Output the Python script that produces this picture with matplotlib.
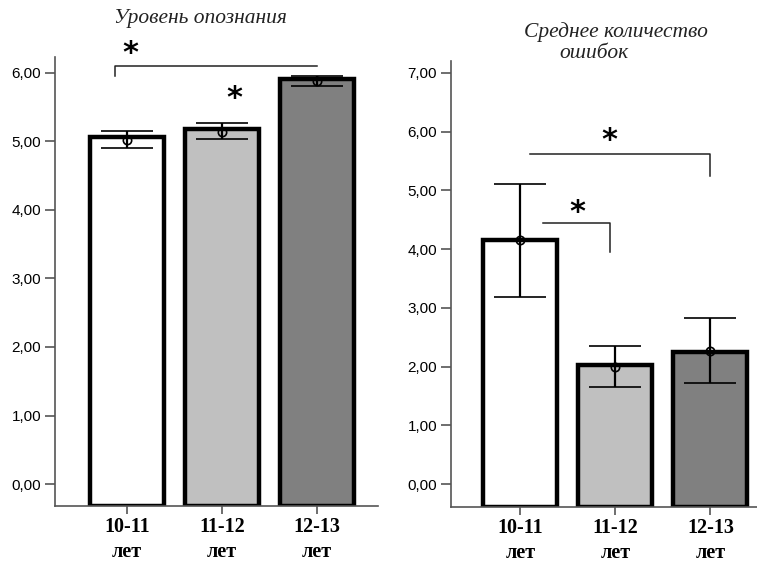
import matplotlib
matplotlib.use("Agg")
import matplotlib.pyplot as plt
from matplotlib.ticker import FuncFormatter

categories = ["10-11\nлет", "11-12\nлет", "12-13\nлет"]
colors = ["#ffffff", "#c0c0c0", "#808080"]

# Left panel: recognition level
left_title = "Уровень опознания"
left_bars = [5.07, 5.18, 5.91]
left_means = [5.02, 5.14, 5.88]
left_upper = [5.15, 5.26, 5.96]
left_lower = [4.90, 5.04, 5.81]
left_ticks = [0, 1, 2, 3, 4, 5, 6]

# Right panel: mean number of errors
right_title_1 = "Среднее количество"
right_title_2 = "ошибок"
right_bars = [4.16, 2.02, 2.25]
right_means = [4.16, 2.00, 2.27]
right_upper = [5.10, 2.35, 2.82]
right_lower = [3.18, 1.65, 1.72]
right_ticks = [0, 1, 2, 3, 4, 5, 6, 7]

fig = plt.figure(figsize=(7.57, 5.62), dpi=100)
fig.patch.set_facecolor("white")

fmt = FuncFormatter(lambda v, p: f"{v:.2f}".replace(".", ","))
spine_col = "#555555"


def panel(ax, bars, means, up, lo, ticks, ymin, ymax, xlim, width):
    x = list(range(len(bars)))
    ax.bar(x, [b - ymin for b in bars], bottom=ymin, width=width,
           color=colors, edgecolor="black", linewidth=3.2, zorder=2)
    yerr = [[m - l for m, l in zip(means, lo)], [u - m for u, m in zip(up, means)]]
    ax.errorbar(x, means, yerr=yerr, fmt="o", mfc="none", mec="black", ms=6,
                mew=1.2, ecolor="black", elinewidth=1.6, capsize=19,
                capthick=1.6, zorder=3)
    ax.set_ylim(ymin, ymax)
    ax.set_xlim(*xlim)
    ax.set_yticks(ticks)
    ax.yaxis.set_major_formatter(fmt)
    ax.set_xticks(x)
    ax.set_xticklabels(categories, fontfamily="Liberation Serif",
                       fontweight="bold", fontsize=14.5, linespacing=1.35)
    for s in ["top", "right"]:
        ax.spines[s].set_visible(False)
    for s in ["left", "bottom"]:
        ax.spines[s].set_color(spine_col)
        ax.spines[s].set_linewidth(1.2)
    ax.tick_params(axis="y", length=7, width=1.2, color=spine_col,
                   labelsize=11, pad=3)
    ax.tick_params(axis="x", length=6, width=1.2, color=spine_col, pad=2)
    for lab in ax.get_yticklabels():
        lab.set_fontfamily("Liberation Sans")
    ax.patch.set_alpha(0)


axL = fig.add_axes([55 / 757, 1 - 506 / 562, 323 / 757, 449 / 562])
panel(axL, left_bars, left_means, left_upper, left_lower, left_ticks,
      -0.32, 6.23, (-0.76, 2.64), 0.78)
axL.plot([0 - 0.13, 0 - 0.13, 2], [5.96, 6.10, 6.10], color="#222222", lw=1.1,
         clip_on=False)
axL.text(0.03, 6.28, "*", ha="center", va="center", fontsize=22,
         fontweight="bold", fontfamily="DejaVu Sans", clip_on=False)
axL.text(1.13, 5.62, "*", ha="center", va="center", fontsize=22,
         fontweight="bold", fontfamily="DejaVu Sans")

axR = fig.add_axes([451 / 757, 1 - 507 / 562, 306 / 757, 446 / 562])
panel(axR, right_bars, right_means, right_upper, right_lower, right_ticks,
      -0.39, 7.2, (-0.73, 2.49), 0.78)
axR.plot([0.1, 2.0, 2.0], [5.62, 5.62, 5.25], color="#222222", lw=1.1)
axR.plot([0.24, 0.94, 0.94], [4.45, 4.45, 3.95], color="#222222", lw=1.1)
axR.text(0.94, 5.85, "*", ha="center", va="center", fontsize=22,
         fontweight="bold", fontfamily="DejaVu Sans")
axR.text(0.6, 4.62, "*", ha="center", va="center", fontsize=22,
         fontweight="bold", fontfamily="DejaVu Sans")

title_kw = dict(ha="center", va="center", fontfamily="Liberation Serif",
                fontstyle="italic", fontsize=15.5, color="#222222")
fig.text(200 / 757, 1 - 18 / 562, left_title, **title_kw)
fig.text(616 / 757, 1 - 32 / 562, right_title_1, **title_kw)
fig.text(594 / 757, 1 - 53 / 562, right_title_2, **title_kw)

fig.savefig("out.png", dpi=100)
